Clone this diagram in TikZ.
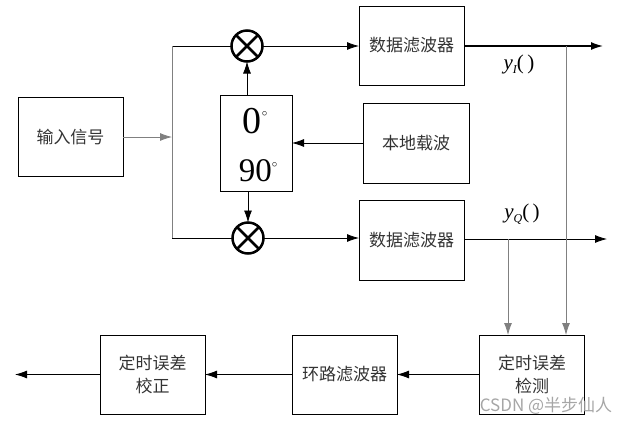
\documentclass[tikz,border=0pt]{standalone}
\usepackage{fontspec}
\setmainfont{Liberation Serif}
\newfontfamily\cjk{Noto Sans CJK SC}
\usetikzlibrary{arrows.meta}

\begin{document}
\begin{tikzpicture}[x=1pt, y=-1pt, line width=0.8pt,
	blk/.style = {draw, outer sep=0pt, minimum width=105pt, minimum height=79pt,
		align=center, font=\cjk\fontsize{17}{23}\selectfont, text=black!80},
	arr/.style = {-{Latex[length=12pt,width=8pt]}},
	mix/.style = {circle, draw, line width=2.5pt, minimum size=31pt, inner sep=0pt, outer sep=0pt},
	deg/.style = {font=\fontsize{38}{38}\selectfont},
	sig/.style = {font=\fontsize{21}{21}\selectfont\itshape}]
	\useasboundingbox (0,0) rectangle (630,424);
	% blocks
	\node [blk] (inp) at (70.5,137) {输入信号};
	\node [blk] (fI) at (411.5,45.5) {数据滤波器};
	\node [blk, minimum width=106pt, minimum height=80pt] (lo) at (416,143) {本地载波};
	\node [blk, minimum height=80pt] (fQ) at (411.5,240) {数据滤波器};
	\node [blk] (ted) at (532,374.5) {定时误差\\检测};
	\node [blk] (lf) at (344.5,374.5) {环路滤波器};
	\node [blk] (tc) at (152.5,374.5) {定时误差\\校正};
	% phase shifter
	\node [draw, outer sep=0pt, minimum width=72pt, minimum height=96pt] (ph) at (256,143) {};
	\node [deg] (p0) at (255,121) {0\raisebox{17pt}{\fontsize{11}{11}\selectfont$\circ$}};
	\node [deg, font=\fontsize{33}{33}\selectfont] (p90) at (258,171) {90\raisebox{14pt}{\fontsize{11}{11}\selectfont$\circ$}};
	% mixers
	\node [mix] (mI) at (247,46) {};
	\node [mix] (mQ) at (248,238) {};
	\foreach \m in {mI,mQ}{
	\draw [line width=2.5pt] (\m.45) -- (\m.225) (\m.135) -- (\m.315);
	}
	% splits and outputs
	\coordinate (sT) at (172,46);
	\coordinate (sB) at (172,238);
	\coordinate (oI) at (603,46);
	\coordinate (oQ) at (607,239);
	\coordinate (tI) at (566,46);
	\coordinate (tQ) at (508,239);
	\coordinate (oT) at (15,374.5);
	\draw [arr, gray] (inp.east) -- (inp.east -| sT);
	\draw (mI.west) -- (sT);
	\draw [gray] (sT) -- (sB);
	\draw (sB) -- (mQ.west);
	\draw [arr] (mI.east) -- (mI.east -| fI.west);
	\draw [arr] (mQ.east) -- (mQ.east -| fQ.west);
	\draw [arr] (mI.south |- ph.north) -- (mI.south);
	\draw [arr] (mQ.north |- ph.south) -- (mQ.north);
	\draw [arr] (lo.west) -- (lo.west -| ph.east);
	\draw [arr, line width=1.4pt] (fI.east |- oI) -- (oI);
	\draw [arr] (fQ.east |- oQ) -- (oQ);
	\draw [arr, gray] (tI) -- (tI |- ted.north);
	\draw [arr, gray] (tQ) -- (tQ |- ted.north);
	\node [sig] (lI) at (519,64) {y\raisebox{-4pt}{\fontsize{12}{12}\selectfont I}\upshape(\,)};
	\node [sig] (lQ) at (522,214) {y\raisebox{-4pt}{\fontsize{12}{12}\selectfont Q}\upshape(\,)};
	% feedback chain
	\draw [arr] (ted.west) -- (lf.east);
	\draw [arr] (lf.west) -- (tc.east);
	\draw [arr] (tc.west) -- (oT);
	\node [text=gray!70, font=\cjk\fontsize{17}{17}\selectfont] (wm) at (546,406) {CSDN @半步仙人};
\end{tikzpicture}
\end{document}
